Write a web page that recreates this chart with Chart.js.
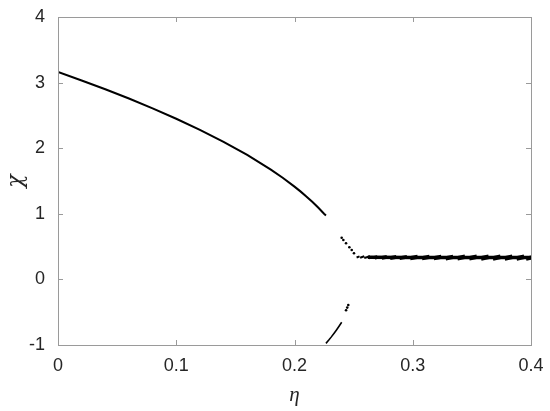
<!DOCTYPE html>
<html>
<head>
<meta charset="utf-8">
<script src="https://cdn.jsdelivr.net/npm/chart.js@4.4.0/dist/chart.umd.min.js"></script>
<style>
html,body{margin:0;padding:0;background:#fff;}
#wrap{width:550px;height:411px;position:relative;}
</style>
</head>
<body>
<div id="wrap"><canvas id="c" width="550" height="411"></canvas></div>
<script>
// Upper stable branch
const upperEta = [0, 0.02, 0.04, 0.06, 0.08, 0.10, 0.12, 0.14, 0.16, 0.18, 0.19, 0.20, 0.205, 0.21, 0.215, 0.22, 0.225, 0.2266];
const upperX   = [3.162, 3.033, 2.898, 2.757, 2.608, 2.449, 2.280, 2.098, 1.897, 1.673, 1.549, 1.414, 1.342, 1.265, 1.183, 1.095, 1.000, 0.975];
// Lower branch segment
const lowerEta = [0.2266, 0.229, 0.231, 0.2335, 0.2355, 0.2378, 0.2399];
const lowerX   = [-0.975, -0.925, -0.88, -0.82, -0.77, -0.71, -0.654];
// Scattered dots after the gap
const dotEta = [0.2399, 0.2413, 0.2436, 0.2464, 0.2484, 0.2503, 0.2436, 0.2446, 0.2455];
const dotX   = [0.636, 0.600, 0.550, 0.489, 0.448, 0.398, -0.47, -0.43, -0.39];
// Chaotic band streaks (start/end eta, low/high value)
const bandStart = [0.2525, 0.2555, 0.259, 0.263, 0.268, 0.274, 0.281, 0.289, 0.298, 0.308, 0.318, 0.328, 0.338, 0.348, 0.358, 0.368, 0.378, 0.388, 0.396];
const bandEnd   = [0.2550, 0.2590, 0.264, 0.270, 0.278, 0.286, 0.295, 0.304, 0.314, 0.324, 0.334, 0.344, 0.354, 0.364, 0.374, 0.384, 0.394, 0.404, 0.412];
const bandLow   = [0.334, 0.330, 0.326, 0.322, 0.318, 0.315, 0.312, 0.310, 0.308, 0.306, 0.305, 0.304, 0.303, 0.302, 0.301, 0.300, 0.300, 0.300, 0.300];
const bandHigh  = [0.352, 0.352, 0.353, 0.354, 0.356, 0.357, 0.358, 0.359, 0.360, 0.361, 0.362, 0.363, 0.363, 0.364, 0.364, 0.365, 0.365, 0.365, 0.365];
// Core of band
const coreEta = [0.262, 0.30, 0.35, 0.41];
const coreX   = [0.337, 0.334, 0.333, 0.332];
// Axis ticks
const xTicks = [0, 0.1, 0.2, 0.3, 0.4];
const yTicks = [-1, 0, 1, 2, 3, 4];

const pts = (xs, ys) => xs.map((v, i) => ({x: v, y: ys[i]}));
const bandPts = [];
bandStart.forEach((s, i) => {
  bandPts.push({x: s, y: bandLow[i]});
  bandPts.push({x: bandEnd[i], y: bandHigh[i]});
  bandPts.push({x: bandEnd[i], y: null});
});

const AXC = '#9a9a9a';
const boxPlugin = {
  id: 'box',
  afterDraw(chart) {
    const {ctx, chartArea: a, scales: {x, y}} = chart;
    ctx.save();
    ctx.strokeStyle = AXC;
    ctx.lineWidth = 1;
    ctx.strokeRect(Math.round(a.left) + 0.5, Math.round(a.top) + 0.5, Math.round(a.right - a.left), Math.round(a.bottom - a.top));
    ctx.beginPath();
    const L = 5;
    xTicks.forEach(v => {
      const px = Math.round(x.getPixelForValue(v)) + 0.5;
      ctx.moveTo(px, a.bottom); ctx.lineTo(px, a.bottom - L);
      ctx.moveTo(px, a.top); ctx.lineTo(px, a.top + L);
    });
    yTicks.forEach(v => {
      const py = Math.round(y.getPixelForValue(v)) + 0.5;
      ctx.moveTo(a.left, py); ctx.lineTo(a.left + L, py);
      ctx.moveTo(a.right, py); ctx.lineTo(a.right - L, py);
    });
    ctx.stroke();
    ctx.restore();
  }
};

new Chart(document.getElementById('c'), {
  type: 'scatter',
  data: {
    datasets: [
      {data: pts(upperEta, upperX), showLine: true, borderColor: '#000', borderWidth: 2, pointRadius: 0, tension: 0},
      {data: pts(lowerEta, lowerX), showLine: true, borderColor: '#000', borderWidth: 1.6, pointRadius: 0},
      {data: pts(dotEta, dotX), showLine: false, backgroundColor: '#000', borderColor: '#000', pointRadius: 1.3, borderWidth: 0},
      {data: bandPts, showLine: true, spanGaps: false, borderColor: '#000', borderWidth: 2, pointRadius: 0},
      {data: pts(coreEta, coreX), showLine: true, borderColor: '#000', borderWidth: 3.5, pointRadius: 0}
    ]
  },
  options: {
    responsive: false,
    animation: false,
    devicePixelRatio: 1,
    layout: {padding: {top: 17, right: 19, left: 0, bottom: 0}},
    plugins: {legend: {display: false}, tooltip: {enabled: false}},
    scales: {
      x: {
        type: 'linear', min: 0, max: 0.4,
        afterBuildTicks: s => { s.ticks = xTicks.map(v => ({value: v})); },
        afterFit: s => { s.height = 66; },
        grid: {display: false},
        border: {display: true, color: AXC},
        ticks: {color: '#262626', padding: 2, maxRotation: 0, font: {family: 'Liberation Sans', size: 18}},
        title: {display: true, text: 'η', color: '#262626', padding: {top: 0, bottom: 3}, font: {family: 'Liberation Serif', style: 'italic', size: 21}}
      },
      y: {
        type: 'linear', min: -1, max: 4,
        afterBuildTicks: s => { s.ticks = yTicks.map(v => ({value: v})); },
        afterFit: s => { s.width = 58; },
        grid: {display: false},
        border: {display: true, color: AXC},
        ticks: {color: '#262626', padding: 5, font: {family: 'Liberation Sans', size: 18}},
        title: {display: true, text: 'χ', color: '#262626', padding: {top: 3, bottom: 0}, font: {family: 'DejaVu Serif', style: 'italic', size: 22}}
      }
    }
  },
  plugins: [boxPlugin]
});
</script>
</body>
</html>
